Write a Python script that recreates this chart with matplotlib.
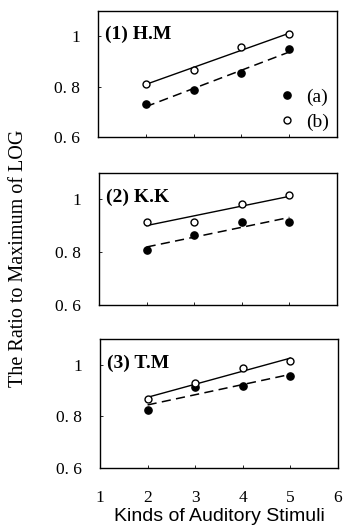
import matplotlib
matplotlib.use("Agg")
import matplotlib.pyplot as plt
import numpy as np

# ── data ─────────────────────────────────────────────────────────────────────
stimuli = [2, 3, 4, 5]
subjects = ["(1) H.M", "(2) K.K", "(3) T.M"]
ratio_a = [
    [0.729, 0.786, 0.852, 0.948],   # H.M
    [0.807, 0.867, 0.913, 0.916],   # K.K
    [0.826, 0.915, 0.917, 0.957],   # T.M
]
ratio_b = [
    [0.812, 0.865, 0.957, 1.007],
    [0.915, 0.913, 0.982, 1.015],
    [0.866, 0.931, 0.987, 1.016],
]
yticks = [0.6, 0.8, 1.0]
ytick_labels = ["0. 6", "0. 8", "1"]
xticks = [1, 2, 3, 4, 5, 6]

SERIF = "Liberation Serif"
plt.rcParams.update({
    "font.family": SERIF,
    "axes.linewidth": 1.0,
})

fig = plt.figure(figsize=(3.43, 5.28), dpi=100)
W, H = 343.0, 528.0
# axes boxes in pixels: (left, top, right, bottom)
boxes = [(98, 11, 337, 137), (99, 173, 337, 305), (100, 339, 338, 468)]

for i, (l, t, r, b) in enumerate(boxes):
    ax = fig.add_axes([l / W, 1 - b / H, (r - l) / W, (b - t) / H])
    x = np.array(stimuli, dtype=float)
    ya = np.array(ratio_a[i]); yb = np.array(ratio_b[i])

    # least-squares trend lines
    fa = np.polyfit(x, ya, 1); fb = np.polyfit(x, yb, 1)
    xx = np.array([2, 5])
    ax.plot(xx, np.polyval(fb, xx), "-", color="black", lw=1.0)
    ax.plot(xx, np.polyval(fa, xx), "--", color="black", lw=1.1, dashes=(6, 3.5))

    ax.plot(x, ya, "o", ms=5.2, color="black", label="(a)")
    ax.plot(x, yb, "o", ms=5, mfc="white", mec="black", mew=1.0, label="(b)")

    ax.set_xlim(1, 6)
    ax.set_ylim(0.6, 1.1)
    ax.set_yticks(yticks)
    ax.set_yticklabels(ytick_labels)
    ax.set_xticks(xticks)
    ax.tick_params(direction="in", length=2.5, width=0.6, labelsize=12.5, pad=13)
    if i < 2:
        ax.tick_params(axis="x", labelbottom=False)
    else:
        ax.tick_params(axis="x", pad=16)

    ax.text(0.03, 0.815, subjects[i], transform=ax.transAxes, fontsize=14,
            fontweight="bold", ha="left", va="center")

    if i == 0:
        ax.legend(loc="lower right", bbox_to_anchor=(1.0, -0.015), frameon=False,
                  fontsize=14, handlelength=0.8, handletextpad=0.6,
                  labelspacing=0.4, borderaxespad=0.0)
    if i == 2:
        ax.set_xlabel("Kinds of Auditory Stimuli", family="Liberation Sans",
                      fontsize=14, labelpad=1)

fig.text(19 / W, 1 - 258 / H, "The Ratio to Maximum of LOG", rotation=90,
         ha="center", va="center", fontsize=14.5)

fig.savefig("out.png", dpi=100)
